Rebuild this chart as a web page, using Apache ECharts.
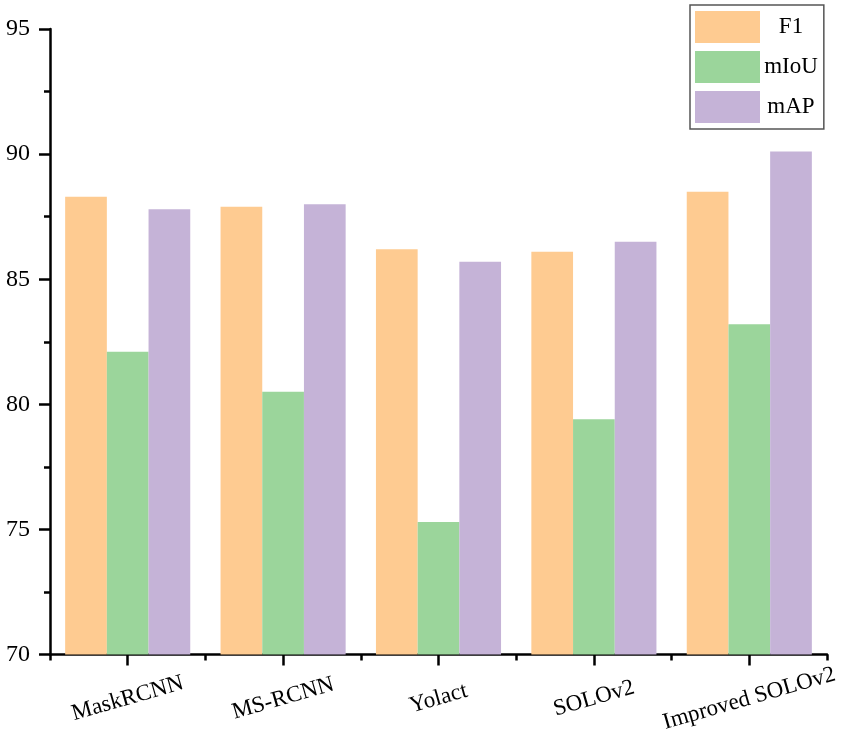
<!DOCTYPE html>
<html><head><meta charset="utf-8">
<script src="https://cdn.jsdelivr.net/npm/echarts@6/dist/echarts.min.js"></script>
<style>html,body{margin:0;padding:0;background:#fff}#c{width:850px;height:735px}</style>
</head><body><div id="c"></div>
<script>
var categories = ['MaskRCNN', 'MS-RCNN', 'Yolact', 'SOLOv2', 'Improved SOLOv2'];
var f1 = [88.3, 87.9, 86.2, 86.1, 88.5];
var miou = [82.1, 80.5, 75.3, 79.4, 83.2];
var map = [87.8, 88.0, 85.7, 86.5, 90.1];
var seriesNames = ['F1', 'mIoU', 'mAP'];
var colors = ['#FECB91', '#9BD59B', '#C5B3D7'];
var font = 'Liberation Serif';

var chart = echarts.init(document.getElementById('c'));
var axisLine = {show: true, lineStyle: {color: '#000', width: 2.5}};
chart.setOption({
  animation: false,
  textStyle: {fontFamily: font, color: '#000'},
  grid: {left: 50, right: 23, top: 29, bottom: 79},
  legend: {
    orient: 'vertical', left: 690, top: 5,
    icon: 'rect',
    itemWidth: 65, itemHeight: 32, itemGap: 8, itemTextGap: 6,
    padding: [6, 6, 6, 5],
    borderColor: '#555', borderWidth: 1.5,
    formatter: function (n) { return '{t|' + n + '}'; },
    textStyle: {fontFamily: font, fontSize: 23, color: '#000',
      rich: {t: {fontFamily: font, fontSize: 23, color: '#000', width: 52, align: 'center'}}},
    data: seriesNames
  },
  xAxis: [{
    type: 'category', data: categories, position: 'bottom',
    axisLine: axisLine,
    axisTick: {show: true, alignWithLabel: true, length: 11, lineStyle: {color: '#000', width: 2.5}},
    axisLabel: {fontFamily: font, fontSize: 23, color: '#000', rotate: 16, align: 'center', verticalAlign: 'middle', margin: 44, interval: 0}
  }, {
    type: 'category', data: categories, position: 'bottom',
    axisLine: {show: false},
    axisTick: {show: true, length: 6, lineStyle: {color: '#000', width: 2.5}},
    axisLabel: {show: false}
  }],
  yAxis: {
    type: 'value', min: 70, max: 95, interval: 5,
    axisLine: axisLine,
    axisTick: {show: true, length: 11, lineStyle: {color: '#000', width: 2.5}},
    minorTick: {show: true, splitNumber: 2, length: 6, lineStyle: {color: '#000', width: 2.5}},
    splitLine: {show: false},
    axisLabel: {fontFamily: font, fontSize: 24, color: '#000', margin: 20}
  },
  series: [f1, miou, map].map(function (d, i) {
    return {
      name: seriesNames[i], type: 'bar', data: d, xAxisIndex: 0,
      barGap: '0%', barCategoryGap: '19.5%',
      itemStyle: {color: colors[i]}
    };
  })
});
</script></body></html>
